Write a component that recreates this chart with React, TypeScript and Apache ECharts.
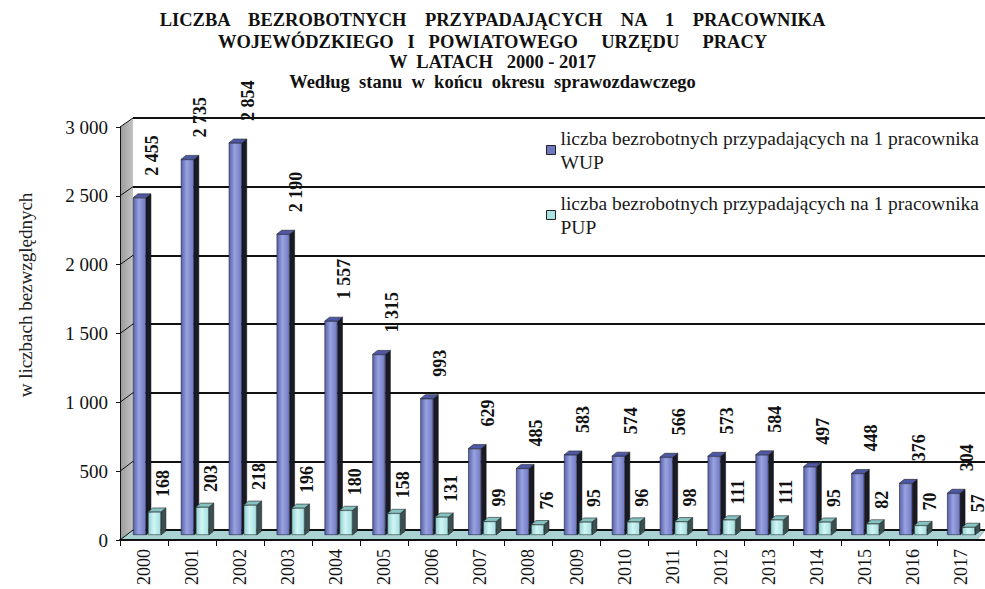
import React, { useEffect, useRef } from 'react';
import * as echarts from 'echarts';

const years = ['2000', '2001', '2002', '2003', '2004', '2005', '2006', '2007', '2008', '2009', '2010', '2011', '2012', '2013', '2014', '2015', '2016', '2017'];
const wupValues = [2455, 2735, 2854, 2190, 1557, 1315, 993, 629, 485, 583, 574, 566, 573, 584, 497, 448, 376, 304];
const pupValues = [168, 203, 218, 196, 180, 158, 131, 99, 76, 95, 96, 98, 111, 111, 95, 82, 70, 57];
const yMin = 0;
const yMax = 3000;
const yStep = 500;
const titleLines = [
  'LICZBA    BEZROBOTNYCH    PRZYPADAJĄCYCH    NA    1    PRACOWNIKA',
  'WOJEWÓDZKIEGO   I   POWIATOWEGO     URZĘDU     PRACY',
  'W  LATACH   2000 - 2017',
];
const subtitle = 'Według  stanu  w  końcu  okresu  sprawozdawczego';
const seriesNames = [
  'liczba bezrobotnych przypadających na 1 pracownika WUP',
  'liczba bezrobotnych przypadających na 1 pracownika PUP',
];
const yAxisTitle = 'w liczbach bezwzględnych';

const W = 985;
const H = 589;
const FONT = '"Liberation Serif", "Times New Roman", serif';
const FRONT = { left: 120, right: 0, top: 127, bottom: 49 };
const MID = { left: 123, right: 0, top: 123, bottom: 54 };
const BACK = { left: 133, right: 0, top: 118, bottom: 59 };
const BW = 13;
const GAP_PCT = 0.15;
const DX = 5;
const DY = 4;

const fmt = (v: number) =>
  v >= 1000 ? `${Math.floor(v / 1000)} ${String(v % 1000).padStart(3, '0')}` : String(v);

export default function App() {
  const ref = useRef<HTMLDivElement>(null);
  useEffect(() => {
    document.body.style.margin = '0';
    const chart = echarts.init(ref.current!, null, { renderer: 'svg', width: W, height: H });

    const titleTops = [10, 32, 52, 72];
    const titlePads = [[0, 0, 0, 16], [0, 0, 0, 16], [0, 0, 0, 16], [0, 0, 0, 2]];
    const title = [...titleLines, subtitle].map((t, i) => ({
      text: t,
      left: 'center',
      top: titleTops[i],
      padding: titlePads[i],
      textStyle: { fontFamily: FONT, fontSize: 18.5, fontWeight: 'bold', color: '#111', lineHeight: 20 },
    }));

    const legendColors = ['#6e78c0', '#a9e2e2'];
    const legendCenters = [150, 215];
    const legend = seriesNames.map((n, k) => ({
      data: [n],
      orient: 'vertical',
      left: 546,
      top: legendCenters[k] - 36,
      padding: 0,
      itemWidth: 9,
      itemHeight: 9,
      selectedMode: false,
      icon: 'rect',
      itemStyle: { color: legendColors[k], borderColor: '#222', borderWidth: 1 },
      formatter: (name: string) => name.replace(/ (WUP|PUP)$/, '\n$1'),
      textStyle: { fontFamily: FONT, fontSize: 19.5, color: '#1a1a1a', lineHeight: 24, padding: [24, 0, 0, 0] },
    }));

    const barGrad = (a: string, b: string, c: string) =>
      new echarts.graphic.LinearGradient(0, 0, 1, 0, [
        { offset: 0, color: a },
        { offset: 0.45, color: b },
        { offset: 1, color: c },
      ]);

    const labelCommon = {
      show: true,
      position: 'top',
      rotate: 90,
      align: 'left',
      verticalAlign: 'middle',
      fontFamily: FONT,
      fontSize: 18,
      fontWeight: 'bold',
      color: '#111',
      formatter: (p: any) => fmt(p.value),
    };

    const option: any = {
      animation: false,
      backgroundColor: '#fff',
      title,
      legend,
      grid: [
        { ...FRONT, containLabel: false },
        { ...BACK, containLabel: false },
        { ...MID, containLabel: false },
      ],
      xAxis: [
        {
          type: 'category',
          gridIndex: 0,
          data: years,
          boundaryGap: true,
          axisLine: { lineStyle: { color: '#111', width: 2 } },
          axisTick: { show: true, length: 6, interval: 0, lineStyle: { color: '#111', width: 1 } },
          axisLabel: { rotate: 90, interval: 0, margin: 9, fontFamily: FONT, fontSize: 18, color: '#111' },
        },
        { type: 'category', gridIndex: 1, data: years, show: false },
        { type: 'category', gridIndex: 2, data: years, show: false },
      ],
      yAxis: [
        {
          type: 'value',
          gridIndex: 0,
          min: yMin,
          max: yMax,
          interval: yStep,
          axisLine: { show: true, lineStyle: { color: '#111', width: 1 } },
          axisTick: { show: true, length: 4, lineStyle: { color: '#111' } },
          axisLabel: { fontFamily: FONT, fontSize: 19, color: '#111', margin: 12, formatter: (v: number) => fmt(v) },
          splitLine: { show: false },
        },
        {
          type: 'value',
          gridIndex: 1,
          min: yMin,
          max: yMax,
          interval: yStep,
          axisLine: { show: false },
          axisTick: { show: false },
          axisLabel: { show: false },
          splitLine: { show: true, lineStyle: { color: '#111', width: 2 } },
        },
        { type: 'value', gridIndex: 2, min: yMin, max: yMax, interval: yStep, show: false, splitLine: { show: false } },
      ],
      series: [
        {
          type: 'custom',
          name: 'depth',
          xAxisIndex: 2,
          yAxisIndex: 2,
          z: 1,
          silent: true,
          data: years.map((_, i) => [i, wupValues[i], pupValues[i]]),
          renderItem: (params: any, api: any) => {
            const i = api.value(0);
            const base = api.coord([i, 0]);
            const gap = BW * GAP_PCT;
            const specs = [
              { v: api.value(1), x: base[0] - gap / 2 - BW, side: '#1a1a24', top: '#4d58a6' },
              { v: api.value(2), x: base[0] + gap / 2, side: '#3a5050', top: '#86c4c4' },
            ];
            const children: any[] = [];
            specs.forEach((s) => {
              const yT = api.coord([i, s.v])[1];
              const yB = base[1];
              const xR = s.x + BW;
              children.push({
                type: 'polygon',
                shape: { points: [[xR, yT], [xR + DX, yT - DY], [xR + DX, yB - DY], [xR, yB]] },
                style: { fill: s.side, stroke: '#111', lineWidth: 0.5 },
              });
              children.push({
                type: 'polygon',
                shape: { points: [[s.x, yT], [s.x + DX, yT - DY], [xR + DX, yT - DY], [xR, yT]] },
                style: { fill: s.top, stroke: '#222', lineWidth: 0.6 },
              });
            });
            return { type: 'group', children };
          },
        },
        {
          type: 'bar',
          name: seriesNames[0],
          xAxisIndex: 2,
          yAxisIndex: 2,
          z: 2,
          barWidth: BW,
          barGap: `${GAP_PCT * 100}%`,
          data: wupValues,
          itemStyle: { color: barGrad('#5761a8', '#9aa3e0', '#6f79c2'), borderColor: '#1e2040', borderWidth: 0.6 },
          label: { ...labelCommon, distance: 22, offset: [0, 13] },
        },
        {
          type: 'bar',
          name: seriesNames[1],
          xAxisIndex: 2,
          yAxisIndex: 2,
          z: 2,
          barWidth: BW,
          barGap: `${GAP_PCT * 100}%`,
          data: pupValues,
          itemStyle: { color: barGrad('#8fcfcf', '#d2f5f5', '#a3dede'), borderColor: '#2a3a3a', borderWidth: 0.6 },
          label: { ...labelCommon, distance: 15, offset: [0, 9] },
        },
      ],
    };
    chart.setOption(option);

    // 3D wall / floor decorations derived from the grids
    const xL = FRONT.left;
    const xB = BACK.left;
    const yFrontBase = H - FRONT.bottom;
    const yBackBase = H - BACK.bottom;
    const ticks: number[] = [];
    for (let v = yMin; v <= yMax; v += yStep) ticks.push(v);
    const connectors = ticks.map((v) => {
      const y0 = chart.convertToPixel({ yAxisIndex: 0 }, v) as number;
      const y1 = chart.convertToPixel({ yAxisIndex: 1 }, v) as number;
      return { type: 'line', z: 3, shape: { x1: xL, y1: y0, x2: xB, y2: y1 }, style: { stroke: '#111', lineWidth: 1 } };
    });
    const yMid = (H - BACK.bottom + BACK.top) / 2 - 29;
    chart.setOption({
      graphic: [
        {
          type: 'polygon',
          z: -5,
          shape: { points: [[xL, FRONT.top], [xB, BACK.top], [xB, yBackBase], [xL, yFrontBase]] },
          style: {
            fill: new echarts.graphic.LinearGradient(0, 0, 1, 0, [
              { offset: 0, color: '#9a9a9a' },
              { offset: 1, color: '#c4c4c4' },
            ]),
          },
        },
        {
          type: 'polygon',
          z: -5,
          shape: { points: [[xL, yFrontBase], [xB, yBackBase], [W, yBackBase], [W - 8, yFrontBase]] },
          style: { fill: '#a9d2d2', stroke: '#6a9090', lineWidth: 0.5 },
        },
        ...connectors,
        {
          type: 'text',
          x: 25,
          y: yMid,
          rotation: Math.PI / 2,
          style: {
            text: yAxisTitle,
            fontFamily: FONT,
            fontSize: 19,
            fill: '#222',
            align: 'center',
            verticalAlign: 'middle',
          },
        },
      ],
    });

    return () => chart.dispose();
  }, []);
  return <div ref={ref} style={{ width: W, height: H }} />;
}
